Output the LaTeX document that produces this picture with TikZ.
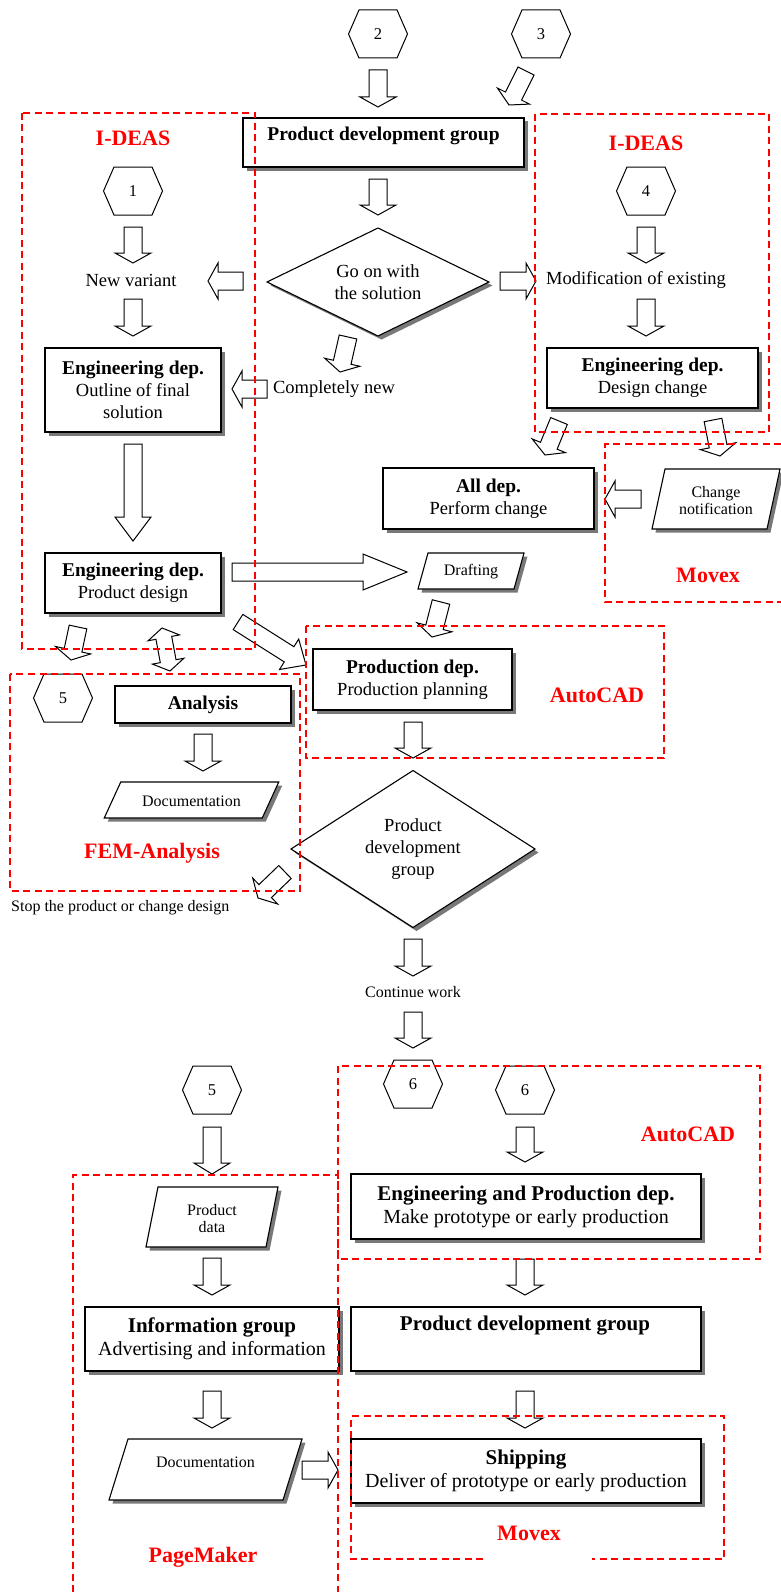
\documentclass[tikz,border=0pt]{standalone}
\usepackage{fontspec}
\setmainfont{Liberation Serif}
\usetikzlibrary{calc,shadows}
\definecolor{shd}{RGB}{120,120,120}
\newcommand\fntReg{\fontsize{18.5}{22}\selectfont}
\newcommand\fntBold{\fontsize{19.5}{22}\selectfont\bfseries}
\newcommand\fntSmall{\fontsize{16}{19}\selectfont}
\newcommand\fntRegB{\fontsize{20}{23}\selectfont}
\newcommand\fntBoldB{\fontsize{21}{23}\selectfont\bfseries}
\newcommand\fntRed{\fontsize{22}{26}\selectfont\bfseries}
\newcommand\fntHex{\fontsize{16.5}{19}\selectfont}
% block arrow: [head length]{start}{end}
\newcommand\barr[3][10]{%
  \path[blockarrow] let \p1=(#2), \p2=(#3),
     \n1={atan2(\y2-\y1,\x2-\x1)}, \n2={veclen(\x2-\x1,\y2-\y1)} in
     [shift={(\p1)}, rotate=\n1]
     (0,-9) -- ({\n2-#1},-9) -- ({\n2-#1},-18) -- (\n2,0) -- ({\n2-#1},18) -- ({\n2-#1},9) -- (0,9) -- cycle;}
% double block arrow
\newcommand\dbarr[3][10]{%
  \path[blockarrow] let \p1=(#2), \p2=(#3),
     \n1={atan2(\y2-\y1,\x2-\x1)}, \n2={veclen(\x2-\x1,\y2-\y1)} in
     [shift={(\p1)}, rotate=\n1]
     (0,0) -- (#1,16) -- (#1,8) -- ({\n2-#1},8) -- ({\n2-#1},16) -- (\n2,0) -- ({\n2-#1},-16) -- ({\n2-#1},-8) -- (#1,-8) -- (#1,-16) -- cycle;}
% hexagon: name, x, y, label
\newcommand\hexa[4]{%
  \draw[hexs] ({#2-29.5},#3) -- ({#2-19},{#3-24}) -- ({#2+19},{#3-24}) -- ({#2+29.5},#3) -- ({#2+19},{#3+24}) -- ({#2-19},{#3+24}) -- cycle;
  \node[font=\fntHex, inner sep=0pt] (#1) at (#2,#3) {#4};}
% parallelogram: name, cx, cy, hw, hh, slant, text y, text
\newcommand\para[8]{%
  \path[shbox] ({#2-#4+#6/2},{#3-#5}) -- ({#2+#4+#6/2},{#3-#5}) -- ({#2+#4-#6/2},{#3+#5}) -- ({#2-#4-#6/2},{#3+#5}) -- cycle;
  \node[font=\fntSmall, align=center, inner sep=0pt] (#1) at (#2,#7) {#8};}
% diamond: name, cx, cy, hw, hh, text
\newcommand\dmd[6]{%
  \path[shbox] ({#2-#4},#3) -- (#2,{#3-#5}) -- ({#2+#4},#3) -- (#2,{#3+#5}) -- cycle;
  \node[font=\fntReg, align=center, inner sep=0pt] (#1) at (#2,#3) {#6};}
\begin{document}
\begin{tikzpicture}[x=1pt,y=-1pt,
  shbox/.style={draw=black, line width=1.1pt, fill=white,
     drop shadow={shadow xshift=3.5pt, shadow yshift=-3.5pt, fill=shd, opacity=1}},
  bx/.style={shbox, align=center, inner sep=0pt, font=\fntReg},
  blockarrow/.style={draw=black, line width=1pt, fill=white, line join=miter},
  hexs/.style={draw=black, line width=1pt, fill=white},
  dbox/.style={draw=red, line width=1.8pt, dash pattern=on 7pt off 4.5pt},
  redlab/.style={text=red, font=\fntRed, inner sep=0pt},
  txt/.style={font=\fntReg, inner sep=0pt},
  stxt/.style={font=\fntSmall, inner sep=0pt}]
\useasboundingbox (0,0) rectangle (781,1592);
\fill[white] (0,0) rectangle (781,1592);

% ---------- hexagons ----------
\hexa{h2}{378}{34}{2}
\hexa{h3}{541}{34}{3}
\hexa{h1}{133}{191}{1}
\hexa{h4}{646}{191}{4}
\hexa{h5a}{63}{698}{5}
\hexa{h5b}{212}{1090}{5}
\hexa{h6a}{413}{1084}{6}
\hexa{h6b}{525}{1090}{6}

% ---------- boxes ----------
\node[bx, minimum width=281pt, minimum height=49pt] (pdgtop) at (383.5,142.5) {};
\node[font=\fntBold, inner sep=0pt] (pdgtopt) at (383.5,136) {Product development group};
\node[bx, minimum width=176pt, minimum height=84pt] (outline) at (133,390)
  {{\fntBold Engineering dep.}\\Outline of final\\solution};
\node[bx, minimum width=176pt, minimum height=60pt] (pdesign) at (133,583)
  {{\fntBold Engineering dep.}\\Product design};
\node[bx, minimum width=211pt, minimum height=60pt] (dchange) at (652.5,378)
  {{\fntBold Engineering dep.}\\Design change};
\node[bx, minimum width=211pt, minimum height=61pt] (alldep) at (488.5,498.5)
  {{\fntBold All dep.}\\Perform change};
\node[bx, minimum width=176pt, minimum height=37pt] (analysis) at (203,704.5)
  {{\fntBold Analysis}};
\node[bx, minimum width=199pt, minimum height=61pt] (prod) at (412.5,679.5)
  {{\fntBold Production dep.}\\Production planning};
\node[bx, font=\fntRegB, minimum width=350pt, minimum height=65pt] (engprod) at (526,1206.5)
  {{\fntBoldB Engineering and Production dep.}\\Make prototype or early production};
\node[bx, minimum width=350pt, minimum height=64pt] (pdgbot) at (526,1339) {};
\node[font=\fntBoldB, inner sep=0pt] (pdgbott) at (525,1326) {Product development group};
\node[bx, font=\fntRegB, minimum width=254pt, minimum height=64pt] (info) at (212,1339)
  {{\fntBoldB Information group}\\Advertising and information};
\node[bx, font=\fntRegB, minimum width=350pt, minimum height=64pt] (ship) at (526,1471)
  {{\fntBoldB Shipping}\\Deliver of prototype or early production};

% ---------- parallelograms ----------
\para{chnot}{716}{499}{57.5}{30}{13}{501}{Change\\[-2pt]notification}
\para{draft}{471}{571}{48}{18}{10}{572}{Drafting}
\para{docfem}{191.5}{800}{79}{18}{16.5}{801}{Documentation}
\para{pdata}{212}{1217}{60}{30}{12}{1219}{Product\\[-2pt]data}
\para{docpm}{205.5}{1469.5}{87}{30.5}{19}{1462}{Documentation}

% ---------- diamonds ----------
\dmd{goon}{378}{282}{111}{54}{Go on with\\the solution}
\dmd{pdgdia}{413}{849}{122}{78.5}{Product\\development\\group}

% ---------- free texts ----------
\node[txt] (newvar) at (131,280) {New variant};
\node[txt] (modif) at (636,280) {Modification of existing};
\node[txt] (compnew) at (334,389) {Completely new};
\node[stxt, anchor=west] (stop) at (11,908) {Stop the product or change design};
\node[stxt] (contw) at (413,992) {Continue work};

% ---------- block arrows ----------
\coordinate (a1s) at (378,70);   \coordinate (a1e) at (378,107);
\coordinate (a2s) at (526,71);   \coordinate (a2e) at (509,105);
\coordinate (a3s) at (378,179);  \coordinate (a3e) at (378,215);
\coordinate (a4s) at (243,281);  \coordinate (a4e) at (208,281);
\coordinate (a5s) at (500,281);  \coordinate (a5e) at (536,281);
\coordinate (a6s) at (133,227);  \coordinate (a6e) at (133,263);
\coordinate (a7s) at (133,299);  \coordinate (a7e) at (133,336);
\coordinate (a8s) at (646,227);  \coordinate (a8e) at (646,263);
\coordinate (a9s) at (646,299);  \coordinate (a9e) at (646,336);
\coordinate (a10s) at (348,337); \coordinate (a10e) at (340,372);
\coordinate (a11s) at (267,389); \coordinate (a11e) at (232,389);
\coordinate (a12s) at (133,444); \coordinate (a12e) at (133,541);
\coordinate (a13s) at (559,421); \coordinate (a13e) at (545,455);
\coordinate (a14s) at (713,420); \coordinate (a14e) at (720,456);
\coordinate (a15s) at (641,499); \coordinate (a15e) at (605,499);
\coordinate (a16s) at (232,572); \coordinate (a16e) at (407,572);
\coordinate (a17s) at (441,602); \coordinate (a17e) at (432,637);
\coordinate (a18s) at (238,622); \coordinate (a18e) at (306,665);
\coordinate (a19s) at (78,627);  \coordinate (a19e) at (71,660);
\coordinate (a20s) at (162,628); \coordinate (a20e) at (170,671);
\coordinate (a21s) at (203,734); \coordinate (a21e) at (203,771);
\coordinate (a22s) at (413,722); \coordinate (a22e) at (413,758);
\coordinate (a23s) at (285,872); \coordinate (a23e) at (258,898);
\coordinate (a24s) at (413,939); \coordinate (a24e) at (413,976);
\coordinate (a25s) at (413,1012); \coordinate (a25e) at (413,1048);
\coordinate (a26s) at (212,1127); \coordinate (a26e) at (212,1174);
\coordinate (a27s) at (525,1127); \coordinate (a27e) at (525,1162);
\coordinate (a28s) at (212,1258); \coordinate (a28e) at (212,1295);
\coordinate (a29s) at (525,1259); \coordinate (a29e) at (525,1295);
\coordinate (a30s) at (212,1391); \coordinate (a30e) at (212,1428);
\coordinate (a31s) at (525,1391); \coordinate (a31e) at (525,1428);
\coordinate (a32s) at (302,1470); \coordinate (a32e) at (338,1470);

\barr{a1s}{a1e} \barr{a2s}{a2e} \barr{a3s}{a3e} \barr{a4s}{a4e}
\barr{a5s}{a5e} \barr{a6s}{a6e} \barr{a7s}{a7e} \barr{a8s}{a8e}
\barr{a9s}{a9e} \barr{a10s}{a10e} \barr{a11s}{a11e} \barr[24]{a12s}{a12e}
\barr{a13s}{a13e} \barr{a14s}{a14e} \barr{a15s}{a15e} \barr[44]{a16s}{a16e}
\barr{a17s}{a17e} \barr[20]{a18s}{a18e} \barr{a19s}{a19e} \dbarr{a20s}{a20e}
\barr{a21s}{a21e} \barr{a22s}{a22e} \barr{a23s}{a23e} \barr{a24s}{a24e}
\barr{a25s}{a25e} \barr[11]{a26s}{a26e} \barr{a27s}{a27e} \barr{a28s}{a28e}
\barr{a29s}{a29e} \barr{a30s}{a30e} \barr{a31s}{a31e} \barr{a32s}{a32e}

% ---------- dashed red groups ----------
\draw[dbox] (22,113) rectangle (255,649);
\draw[dbox] (535,114) rectangle (769,432);
\draw[dbox] (781,444) -- (605,444) -- (605,602) -- (781,602);
\draw[dbox] (10,674) rectangle (300,891);
\draw[dbox] (306,626) rectangle (664,758);
\draw[dbox] (338,1066) rectangle (760,1259);
\draw[dbox] (73,1592) -- (73,1175) -- (338,1175) -- (338,1592);
\draw[dbox] (483,1559) -- (351,1559) -- (351,1416) -- (724,1416) -- (724,1559) -- (592,1559);

% ---------- red labels ----------
\node[redlab] (l1) at (133,138) {I-DEAS};
\node[redlab] (l2) at (646,143) {I-DEAS};
\node[redlab] (l3) at (708,575) {Movex};
\node[redlab] (l4) at (597,695) {AutoCAD};
\node[redlab] (l5) at (152,853) {FEM-Analysis};
\node[redlab] (l6) at (688,1134) {AutoCAD};
\node[redlab] (l7) at (203,1557) {PageMaker};
\node[redlab] (l8) at (529,1533) {Movex};
\end{tikzpicture}
\end{document}
